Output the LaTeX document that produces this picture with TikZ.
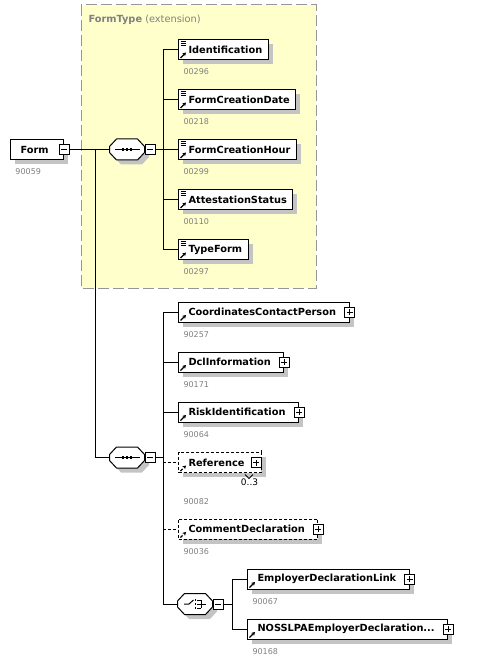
\documentclass[tikz,border=0pt]{standalone}
\usepackage{fontspec}
\usepackage{tikz}
\usetikzlibrary{shadows,calc,arrows.meta}
\newfontfamily\xsdfont{DejaVu Sans}
\definecolor{typeyellow}{RGB}{255,255,204}
\definecolor{typeborder}{RGB}{150,150,150}
\definecolor{shadegray}{RGB}{196,196,196}
\definecolor{idgray}{RGB}{128,128,128}

\newcommand\arrowicon{\draw[line width=1.1pt,-{Stealth[length=3.5pt,width=4pt]}] ([xshift=2pt,yshift=1.5pt]path picture bounding box.south west) -- ([xshift=7.5pt,yshift=7pt]path picture bounding box.south west);}
\newcommand\docicon{\foreach \dy in {1.5pt,3.5pt,5.5pt} \draw[line width=0.8pt] ([xshift=2pt,yshift=-\dy]path picture bounding box.north west) -- ++(5,0);}
\newcommand\octa[1]{%
  \fill[shadegray] ($(#1.west)+(4.5,1.5)$) -- ($(#1.north west)+(11.5,4.5)$) -- ($(#1.north east)+(-2.5,4.5)$) -- ($(#1.east)+(4.5,1.5)$) -- ($(#1.east)+(4.5,7.5)$) -- ($(#1.south east)+(-2.5,4.5)$) -- ($(#1.south west)+(11.5,4.5)$) -- ($(#1.west)+(4.5,7.5)$) -- cycle;
  \draw[fill=white] ($(#1.west)+(0,-3)$) -- ($(#1.north west)+(7,0)$) -- ($(#1.north east)+(-7,0)$) -- ($(#1.east)+(0,-3)$) -- ($(#1.east)+(0,3)$) -- ($(#1.south east)+(-7,0)$) -- ($(#1.south west)+(7,0)$) -- ($(#1.west)+(0,3)$) -- cycle;}
\newcommand\seqicon[1]{%
  \draw ($(#1.center)+(-12.5,0)$) -- ($(#1.center)+(12.5,0)$);
  \foreach \dx in {-4,0,4} \fill ($(#1.center)+(\dx-1.3,-1.5)$) rectangle ++(2.6,3);}
\newcommand\choiceicon[1]{%
  \draw ($(#1.center)+(-11,0)$) -- ($(#1.center)+(-6,0)$) -- ($(#1.center)+(-1.5,-4)$);
  \foreach \dy in {-4,0,4} {\fill ($(#1.center)+(-0.2,\dy-0.7)$) rectangle ++(1.4,1.4);
    \draw ($(#1.center)+(2,\dy)$) -- ($(#1.center)+(6,\dy)$);}
  \draw ($(#1.center)+(6,-4)$) -- ($(#1.center)+(6,4)$);
  \draw ($(#1.center)+(6,0)$) -- ($(#1.center)+(11,0)$);}

\begin{document}
\begin{tikzpicture}[x=1pt,y=-1pt,line width=1pt,
  elembase/.style={draw,fill=white,anchor=west,minimum height=20pt,inner xsep=0pt,inner ysep=0pt,
    font=\xsdfont\fontsize{9.8}{12}\selectfont\bfseries,
    drop shadow={shadow xshift=4.5pt,shadow yshift=-4.5pt,fill=shadegray,opacity=1},
    execute at begin node=\hspace*{10pt}},
  elem/.style={elembase,path picture={\arrowicon},execute at end node=\hspace*{6pt}},
  docelem/.style={elembase,path picture={\arrowicon\docicon},execute at end node=\hspace*{6pt}},
  elemx/.style={elembase,path picture={\arrowicon},execute at end node=\hspace*{13pt}},
  optional/.style={dash pattern=on 3pt off 2pt},
  idtag/.style={anchor=west,inner sep=0pt,text=idgray,font=\xsdfont\fontsize{8}{9}\selectfont},
  compbox/.style={anchor=west,minimum width=34pt,minimum height=20pt,inner sep=0pt},
  minusbox/.style={draw,fill=white,minimum size=10pt,inner sep=0pt,
    path picture={\draw ([xshift=2pt]path picture bounding box.west) -- ([xshift=-2pt]path picture bounding box.east);}},
  plusbox/.style={draw,fill=white,minimum size=10pt,inner sep=0pt,
    path picture={\draw ([xshift=2pt]path picture bounding box.west) -- ([xshift=-2pt]path picture bounding box.east);
      \draw ([yshift=2pt]path picture bounding box.south) -- ([yshift=-2pt]path picture bounding box.north);}}]
\useasboundingbox (0,0) rectangle (477,663);
\fill[typeyellow] (81,5) rectangle (316,288);
\draw[typeborder,dash pattern=on 11pt off 4pt] (81,5) rectangle (316,288);
\node[anchor=west,inner sep=0pt,text=idgray,font=\xsdfont\fontsize{9.8}{12}\selectfont] (typetitle) at (88,20) {\bfseries FormType\mdseries{} (extension)};
\coordinate (trunk) at (95,0);
\coordinate (spine) at (163,0);
\coordinate (spineC) at (232,0);

\node[elembase,execute at end node=\hspace*{15pt}] (form) at (10,149.5) {Form};
\node[minusbox] (formm) at (form.east) {};
\node[idtag] (formid) at ([shift={(5,12)}]form.south west) {90059};

\node[compbox] (seqA) at (109.5,149.5) {};
\octa{seqA}
\seqicon{seqA}
\node[minusbox,anchor=west] (seqAm) at (seqA.east) {};

\node[docelem] (ident) at (178,49.5) {Identification};
\node[idtag] (identid) at ([shift={(5,12)}]ident.south west) {00296};
\node[docelem] (fcdate) at (178,99.5) {FormCreationDate};
\node[idtag] (fcdateid) at ([shift={(5,12)}]fcdate.south west) {00218};
\node[docelem] (fchour) at (178,149.5) {FormCreationHour};
\node[idtag] (fchourid) at ([shift={(5,12)}]fchour.south west) {00299};
\node[docelem] (attest) at (178,199.5) {AttestationStatus};
\node[idtag] (attestid) at ([shift={(5,12)}]attest.south west) {00110};
\node[docelem] (typeform) at (178,249.5) {TypeForm};
\node[idtag] (typeformid) at ([shift={(5,12)}]typeform.south west) {00297};

\node[compbox] (seqB) at (109.5,457.5) {};
\octa{seqB}
\seqicon{seqB}
\node[minusbox,anchor=west] (seqBm) at (seqB.east) {};

\node[elemx] (ccp) at (178,312) {CoordinatesContactPerson};
\node[plusbox] (ccpp) at (ccp.east) {};
\node[idtag] (ccpid) at ([shift={(5,12)}]ccp.south west) {90257};
\node[elemx] (dcl) at (178,362) {DclInformation};
\node[plusbox] (dclp) at (dcl.east) {};
\node[idtag] (dclid) at ([shift={(5,12)}]dcl.south west) {90171};
\node[elemx] (risk) at (178,412) {RiskIdentification};
\node[plusbox] (riskp) at (risk.east) {};
\node[idtag] (riskid) at ([shift={(5,12)}]risk.south west) {90064};
\node[elembase,optional,path picture={\arrowicon},execute at end node=\hspace*{16.5pt}] (ref) at (178,462.5) {Reference};
\node[plusbox] (refp) at ([xshift=-5.5pt]ref.east) {};
\draw (ref.north east) -- ++(0,-2.5);
\draw[line width=0.8pt] ([shift={(67,1.5)}]ref.south west) -- ++(4,4) -- ++(4,-4);
\node[inner sep=0pt,font=\xsdfont\fontsize{9}{10}\selectfont] (refocc) at (249.5,482) {0..3};
\node[idtag] (refid) at ([shift={(5,29)}]ref.south west) {90082};
\node[elemx,optional] (comment) at (178,529) {CommentDeclaration};
\node[plusbox] (commentp) at (comment.east) {};
\node[idtag] (commentid) at ([shift={(5,12)}]comment.south west) {90036};

\node[compbox] (seqC) at (177.5,604) {};
\octa{seqC}
\choiceicon{seqC}
\node[minusbox,anchor=west] (seqCm) at (seqC.east) {};

\node[elemx] (edl) at (247,579) {EmployerDeclarationLink};
\node[plusbox] (edlp) at (edl.east) {};
\node[idtag] (edlid) at ([shift={(5,12)}]edl.south west) {90067};
\node[elemx] (noss) at (247,629) {NOSSLPAEmployerDeclaration...};
\node[plusbox] (nossp) at (noss.east) {};
\node[idtag] (nossid) at ([shift={(5,12)}]noss.south west) {90168};

\draw (formm.east) -- (seqA.west);
\draw (formm.east -| trunk) |- (seqB.west);
\foreach \c in {ident,fcdate,fchour,attest,typeform}
  \draw (seqAm.east) -| (spine |- \c.west) -- (\c.west);
\foreach \c in {ccp,dcl,risk,seqC}
  \draw (seqBm.east) -| (spine |- \c.west) -- (\c.west);
\foreach \c in {ref,comment} {
  \draw (seqBm.east) -| (spine |- \c.west);
  \draw[optional] (spine |- \c.west) -- (\c.west);}
\foreach \c in {edl,noss}
  \draw (seqCm.east) -| (spineC |- \c.west) -- (\c.west);
\end{tikzpicture}
\end{document}
